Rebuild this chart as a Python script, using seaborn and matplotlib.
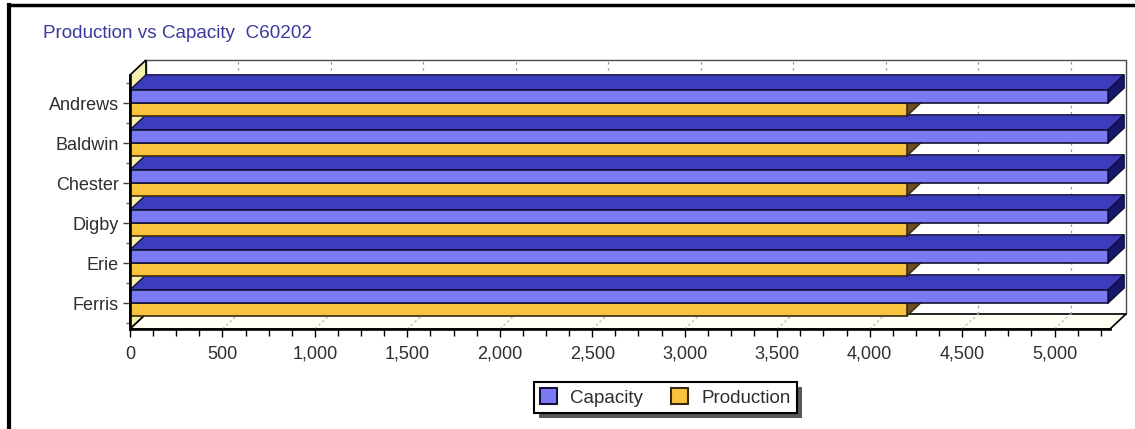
import numpy as np
import pandas as pd
import matplotlib
matplotlib.use("Agg")
import matplotlib.pyplot as plt
from matplotlib.patches import Polygon, Rectangle, Patch
from matplotlib.lines import Line2D
from matplotlib.ticker import FixedLocator, MultipleLocator, FuncFormatter
import seaborn as sns

# ---- data ----
teams = ["Andrews", "Baldwin", "Chester", "Digby", "Erie", "Ferris"]
capacity = [5290, 5290, 5290, 5290, 5290, 5290]
production = [4200, 4200, 4200, 4200, 4200, 4200]
series_names = ["Capacity", "Production"]
x_ticks = [0, 500, 1000, 1500, 2000, 2500, 3000, 3500, 4000, 4500, 5000]
title = "Production vs Capacity  C60202"

# ---- styling ----
FONT = ["Liberation Sans", "DejaVu Sans"]
sns.set_style("white")
plt.rcParams["font.family"] = FONT

front = {"Capacity": "#7a7af2", "Production": "#f8c43e"}
top_col = {"Capacity": "#3c3cbc", "Production": "#c89a2a"}
side_col = {"Capacity": "#16166a", "Production": "#6a5020"}
edge_col = {"Capacity": "#12123c", "Production": "#3a2810"}

W, H = 1135, 429
fig = plt.figure(figsize=(W / 100, H / 100), dpi=100)
ax = fig.add_axes([130 / W, 1 - 329 / H, 980 / W, 254 / H])

df = pd.DataFrame({
    "team": teams * 2,
    "series": [series_names[0]] * len(teams) + [series_names[1]] * len(teams),
    "value": capacity + production,
})

sns.barplot(data=df, x="value", y="team", hue="series", order=teams,
            hue_order=series_names, orient="h", palette=front, saturation=1,
            width=0.66, errorbar=None, linewidth=1.2, ax=ax, legend=False)

XMAX = 5300
ax.set_xlim(0, XMAX)
ax.set_ylim(5.65, -0.7)
ax.set_facecolor("none")

# depth of the pseudo-3D extrusion, in display pixels
DX, DY = 16, 15
to_disp = ax.transData.transform
to_data = ax.transData.inverted().transform


def add_poly(pts_disp, fc, ec, lw, z):
    pts = to_data(np.asarray(pts_disp, dtype=float))
    ax.add_patch(Polygon(pts, closed=True, facecolor=fc, edgecolor=ec,
                         linewidth=lw, zorder=z, clip_on=False,
                         joinstyle="miter"))


# ---- walls of the box ----
(x0, yb), = to_disp([(0, 5.65)])
(x1, yt), = to_disp([(XMAX, -0.7)])
add_poly([(x0 + DX, yb + DY), (x1 + DX, yb + DY), (x1 + DX, yt + DY), (x0 + DX, yt + DY)],
         "white", "#4a4a4a", 1.0, 0.2)
add_poly([(x0, yb), (x0, yt), (x0 + DX, yt + DY), (x0 + DX, yb + DY)],
         "#f2f0aa", "black", 1.2, 0.3)
add_poly([(x0, yb), (x1, yb), (x1 + DX, yb + DY), (x0 + DX, yb + DY)],
         "#fffff4", "black", 1.2, 0.3)

# gridlines on the back wall and floor
for t in x_ticks[1:]:
    (xt, _), = to_disp([(t, 0)])
    ax.add_line(Line2D(*to_data([(xt + DX, yb + DY), (xt + DX, yt + DY)]).T,
                       color="#9a9a9a", lw=0.9, ls=(0, (2, 3)), zorder=0.5,
                       clip_on=False))
    ax.add_line(Line2D(*to_data([(xt, yb), (xt + DX, yb + DY)]).T,
                       color="#b8b8b8", lw=0.9, ls=(0, (2, 2)), zorder=0.5,
                       clip_on=False))

# ---- extruded faces of the bars ----
n = len(teams)
for h, (name, cont) in enumerate(zip(series_names, ax.containers)):
    for i, bar in enumerate(cont):
        z = 2 + (n - 1 - i) * 0.1 + (0.05 if name == "Capacity" else 0.0)
        bx, by, bw, bh = bar.get_x(), bar.get_y(), bar.get_width(), bar.get_height()
        (l, b1), (r, b2) = to_disp([(bx, by), (bx + bw, by + bh)])
        top, bot = max(b1, b2), min(b1, b2)
        add_poly([(l, top), (r, top), (r + DX, top + DY), (l + DX, top + DY)],
                 top_col[name], edge_col[name], 1.0, z)
        add_poly([(r, bot), (r, top), (r + DX, top + DY), (r + DX, bot + DY)],
                 side_col[name], edge_col[name], 1.0, z)
        bar.set_zorder(z + 0.02)
        bar.set_edgecolor(edge_col[name])
        bar.set_linewidth(1.2)

# ---- axes ----
for s in ("top", "right"):
    ax.spines[s].set_visible(False)
for s in ("left", "bottom"):
    ax.spines[s].set_color("black")
    ax.spines[s].set_linewidth(1.9)
    ax.spines[s].set_zorder(5)

ax.xaxis.set_major_locator(FixedLocator(x_ticks))
ax.xaxis.set_minor_locator(MultipleLocator(125))
ax.xaxis.set_major_formatter(FuncFormatter(lambda v, p: f"{int(v):,}"))
ax.yaxis.set_minor_locator(FixedLocator([k + 0.5 for k in range(-1, n)]))
ax.tick_params(axis="x", which="major", length=6, width=1, color="black",
               direction="out", labelsize=13, labelcolor="#2e2e2e", pad=6,
               bottom=True)
ax.tick_params(axis="x", which="minor", length=5, width=1, color="black",
               direction="out", bottom=True)
ax.tick_params(axis="y", which="major", length=5, width=1, color="#404040",
               direction="out", labelsize=13, labelcolor="#2e2e2e", pad=3,
               left=True)
ax.tick_params(axis="y", which="minor", length=3, width=1, color="#606060",
               direction="out", left=True)
ax.set_xlabel("")
ax.set_ylabel("")

# ---- title ----
fig.text(43 / W, 1 - 33 / H, title, fontsize=13.6, color="#3a3a9c",
         va="center", ha="left", family=FONT)

# ---- legend ----
handles = [Patch(facecolor=front[s], edgecolor=edge_col[s], linewidth=1.5)
           for s in series_names]
leg = fig.legend(handles=handles, labels=series_names, loc="center",
                 bbox_to_anchor=(665.5 / W, 1 - 397.5 / H), ncol=2,
                 fontsize=13.5, frameon=True, fancybox=False, shadow=False,
                 framealpha=1, facecolor="white",
                 handlelength=0.9, handleheight=0.9, handletextpad=0.7,
                 columnspacing=1.5, borderpad=0.35, borderaxespad=0)
leg.get_frame().set_edgecolor("black")
leg.get_frame().set_linewidth(1.5)
for t in leg.get_texts():
    t.set_color("#2e2e2e")
leg.set_zorder(10)

fig.canvas.draw()
bb = leg.get_window_extent()
inv = fig.transFigure.inverted()
(sx0, sy0), (sx1, sy1) = inv.transform([(bb.x0 + 5, bb.y0 - 5), (bb.x1 + 5, bb.y1 - 5)])
fig.add_artist(Rectangle((sx0, sy0), sx1 - sx0, sy1 - sy0, transform=fig.transFigure,
                         facecolor="#202020", edgecolor="none", alpha=0.75, zorder=9))

# ---- outer frame ----
fig.add_artist(Line2D([9 / W, 9 / W], [0, 1 - 5 / H], color="black", lw=3,
                      transform=fig.transFigure, solid_capstyle="projecting"))
fig.add_artist(Line2D([9 / W, 1], [1 - 5 / H, 1 - 5 / H], color="black", lw=2.5,
                      transform=fig.transFigure, solid_capstyle="projecting"))

fig.savefig("out.png", dpi=100, facecolor="white")
